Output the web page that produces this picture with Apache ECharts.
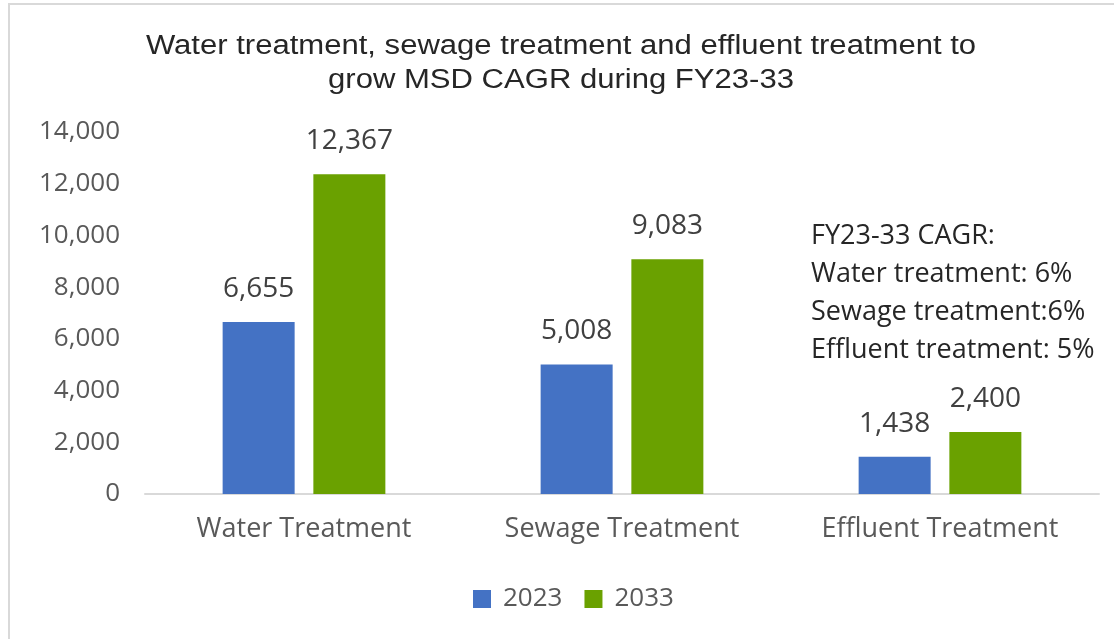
<!DOCTYPE html>
<html>
<head>
<meta charset="utf-8">
<script src="https://cdn.jsdelivr.net/npm/echarts@6/dist/echarts.min.js"></script>
<style>
  html, body { margin: 0; padding: 0; background: #fff; }
  #frame {
    position: absolute; left: 8px; top: 3px; width: 1120px; height: 660px;
    border: 2px solid #d9d9d9; box-sizing: border-box;
  }
  #chart { position: absolute; left: 0; top: 0; width: 1114px; height: 639px; }
</style>
</head>
<body>
<div id="frame"></div>
<div id="chart"></div>
<script>
const categories = ['Water Treatment', 'Sewage Treatment', 'Effluent Treatment']
const values2023 = [6655, 5008, 1438]
const values2033 = [12367, 9083, 2400]
const yTicks = [0, 2000, 4000, 6000, 8000, 10000, 12000, 14000]
const cagrNotes = ['FY23-33 CAGR:', 'Water treatment: 6%', 'Sewage treatment:6%', 'Effluent treatment: 5%']
const titleLines = ['Water treatment, sewage treatment and effluent treatment to', 'grow MSD CAGR during FY23-33']

const textFont = '"Open Sans", Lato, sans-serif'
const fmt = (v) => v.toLocaleString('en-US')

const chart = echarts.init(document.getElementById('chart'))

const barLabel = {
  show: true,
  position: 'top',
  distance: 19,
  fontFamily: textFont,
  fontSize: 28,
  color: '#404040',
  formatter: (p) => fmt(p.value),
}

chart.setOption({
  backgroundColor: 'transparent',
  animation: false,
  grid: {
    left: 145,
    right: 15,
    top: 132,
    bottom: 145,
    containLabel: false,
  },
  legend: {
    bottom: 22,
    left: 468,
    itemWidth: 18,
    itemHeight: 18,
    itemGap: 22,
    icon: 'rect',
    textStyle: { fontFamily: textFont, fontSize: 26, color: '#595959', padding: [0, 0, 0, 7] },
  },
  xAxis: {
    type: 'category',
    data: categories,
    axisTick: { show: false },
    axisLine: { lineStyle: { color: '#d9d9d9', width: 2 } },
    axisLabel: { margin: 22, fontFamily: textFont, fontSize: 27, color: '#595959' },
  },
  yAxis: {
    type: 'value',
    min: yTicks[0],
    max: yTicks[yTicks.length - 1],
    interval: 2000,
    splitLine: { show: false },
    axisLine: { show: false },
    axisLabel: {
      margin: 25,
      fontFamily: textFont,
      fontSize: 26,
      color: '#595959',
      formatter: (v) => fmt(v),
    },
  },
  series: [
    {
      name: '2023',
      type: 'bar',
      data: values2023,
      barWidth: 72,
      barGap: '26%',
      itemStyle: { color: '#4472c4' },
      label: barLabel,
    },
    {
      name: '2033',
      type: 'bar',
      data: values2033,
      barWidth: 72,
      itemStyle: { color: '#6aa100' },
      label: barLabel,
    },
  ],
  graphic: [
    {
      type: 'text',
      x: 561,
      y: 30,
      scaleX: 1.15,
      style: {
        text: titleLines.join('\n'),
        align: 'center',
        fontFamily: '"Liberation Sans", Arial, sans-serif',
        fontSize: 27,
        lineHeight: 34,
        fill: '#262626',
      },
    },
    {
      type: 'text',
      left: 811,
      top: 217,
      style: {
        text: cagrNotes.join('\n'),
        fontFamily: textFont,
        fontSize: 27,
        lineHeight: 38,
        fill: '#262626',
      },
    },
  ],
})
</script>
</body>
</html>
